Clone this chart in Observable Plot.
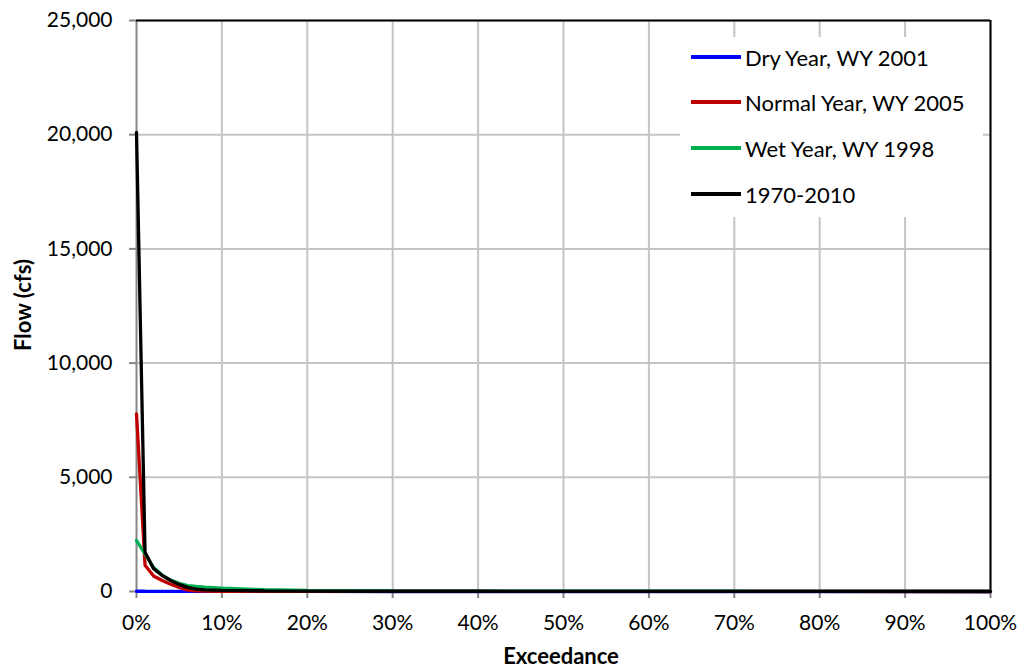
<!DOCTYPE html>
<html>
<head>
<meta charset="utf-8">
<script src="https://cdn.jsdelivr.net/npm/d3@7"></script>
<script src="https://cdn.jsdelivr.net/npm/@observablehq/plot@0.6"></script>
<style>
  html, body { margin: 0; padding: 0; background: #fff; }
  #wrap { position: relative; width: 1021px; height: 671px; font-family: Lato, "Open Sans", sans-serif; color: #000; }
  #legend { position: absolute; left: 680px; top: 37px; width: 303px; height: 180px; background: #fff; }
  .item { position: absolute; left: 11px; height: 30px; display: flex; align-items: center; font-size: 22px; white-space: nowrap; }
  .swatch { width: 50px; height: 3.5px; margin-right: 4px; }
  .ttl { position: absolute; font-weight: bold; font-size: 22px; line-height: 24px; white-space: nowrap; }
</style>
</head>
<body>
<div id="wrap"></div>
<script>
// Exceedance probability (fraction)
const exceedance = [0, 0.01, 0.02, 0.03, 0.04, 0.05, 0.06, 0.07, 0.08, 0.10, 0.15, 0.20, 0.30, 0.40, 0.50, 0.60, 0.70, 0.80, 0.90, 1.00];
// Flow (cfs) series
const dryYear2001    = [12, 10, 9, 8, 7, 6, 5, 5, 4, 3, 2, 2, 1, 1, 0, 0, 0, 0, 0, 0];
const normalYear2005 = [7780, 1150, 680, 480, 320, 180, 60, 25, 15, 10, 8, 6, 5, 4, 3, 3, 2, 2, 1, 1];
const wetYear1998    = [2230, 1650, 1050, 720, 500, 360, 260, 220, 190, 145, 80, 50, 25, 20, 15, 12, 10, 8, 5, 2];
const period19702010 = [20100, 1720, 1000, 700, 480, 310, 180, 100, 70, 45, 30, 20, 12, 10, 8, 6, 5, 4, 2, 1];

const seriesNames = ["Dry Year, WY 2001", "Normal Year, WY 2005", "Wet Year, WY 1998", "1970-2010"];
const seriesColors = ["#0000ff", "#c00000", "#00b050", "#000000"];
const seriesValues = [dryYear2001, normalYear2005, wetYear1998, period19702010];

const xTicks = [0, 0.1, 0.2, 0.3, 0.4, 0.5, 0.6, 0.7, 0.8, 0.9, 1.0];
const yTicks = [0, 5000, 10000, 15000, 20000, 25000];
const xTitle = "Exceedance";
const yTitle = "Flow (cfs)";

const rows = [];
seriesValues.forEach((vals, i) => {
  vals.forEach((v, j) => rows.push({series: seriesNames[i], x: exceedance[j], y: v}));
});

const lineMarks = seriesNames.map((name, i) =>
  Plot.line(rows.filter(d => d.series === name), {x: "x", y: "y", stroke: seriesColors[i], strokeWidth: 3.3, strokeLinejoin: "miter"})
);

const chart = Plot.plot({
  width: 1021,
  height: 671,
  marginLeft: 136,
  marginRight: 31,
  marginTop: 20,
  marginBottom: 80,
  style: {fontFamily: "Lato, 'Open Sans', sans-serif", fontSize: "21px", color: "#000", background: "#fff"},
  x: {domain: [0, 1]},
  y: {domain: [0, 25000]},
  marks: [
    Plot.gridX(xTicks.slice(1), {stroke: "#c4c4c4", strokeOpacity: 1, strokeWidth: 2}),
    Plot.gridY(yTicks.slice(1), {stroke: "#c4c4c4", strokeOpacity: 1, strokeWidth: 2}),
    Plot.axisX(xTicks, {tickFormat: d3.format(".0%"), tickSize: 7, tickPadding: 17, stroke: "#868686", strokeWidth: 2, label: null}),
    Plot.axisY(yTicks, {tickFormat: d3.format(","), tickSize: 7, tickPadding: 17, stroke: "#868686", strokeWidth: 2, label: null}),
    Plot.ruleX([0], {stroke: "#868686", strokeWidth: 2}),
    Plot.ruleY([0], {stroke: "#868686", strokeWidth: 2}),
    Plot.ruleY([25000], {stroke: "#000", strokeWidth: 2}),
    Plot.ruleX([1], {stroke: "#000", strokeWidth: 2}),
    ...lineMarks
  ]
});

const wrap = document.getElementById("wrap");
wrap.appendChild(chart);

// Legend (inside plot area, white box)
const legend = document.createElement("div");
legend.id = "legend";
const itemTops = [5, 50, 96, 142];
seriesNames.forEach((name, i) => {
  const it = document.createElement("div");
  it.className = "item";
  it.style.top = itemTops[i] + "px";
  const sw = document.createElement("div");
  sw.className = "swatch";
  sw.style.background = seriesColors[i];
  const tx = document.createElement("span");
  tx.textContent = name;
  it.appendChild(sw);
  it.appendChild(tx);
  legend.appendChild(it);
});
wrap.appendChild(legend);

// Axis titles
const xt = document.createElement("div");
xt.className = "ttl";
xt.textContent = xTitle;
xt.style.left = "561px";
xt.style.top = "656px";
xt.style.transform = "translate(-50%, -50%)";
wrap.appendChild(xt);

const yt = document.createElement("div");
yt.className = "ttl";
yt.textContent = yTitle;
yt.style.left = "23px";
yt.style.top = "305px";
yt.style.transform = "translate(-50%, -50%) rotate(-90deg)";
wrap.appendChild(yt);
</script>
</body>
</html>
